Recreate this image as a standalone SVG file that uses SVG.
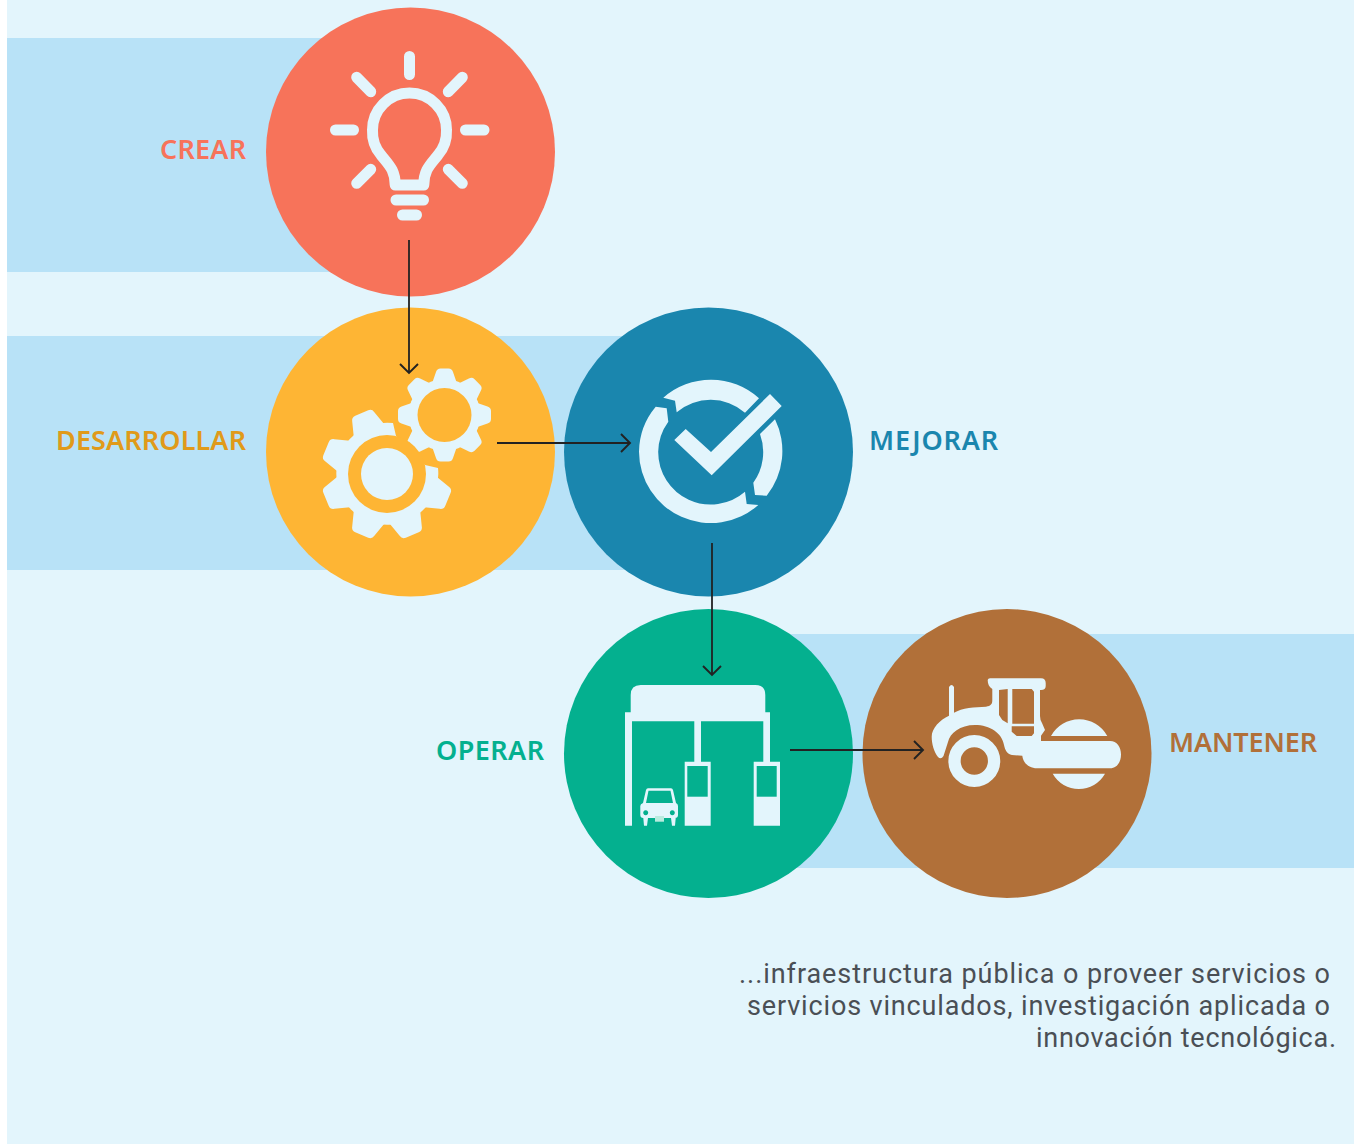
<svg xmlns="http://www.w3.org/2000/svg" width="1357" height="1144" viewBox="0 0 1357 1144">
<style>
.ico{fill:#E3F5FC}
.st{fill:none;stroke:#E3F5FC;stroke-width:11;stroke-linecap:round;stroke-linejoin:round}
.lb{font-family:"Noto Sans","Liberation Sans",sans-serif;font-size:27px;font-weight:600}
.tx{font-family:Roboto,"Noto Sans",sans-serif;font-size:27px;fill:#4A4F55}
.cn{fill:none;stroke:#222;stroke-width:1.8}
</style>
<defs>
<marker id="ah" markerUnits="userSpaceOnUse" markerWidth="20" markerHeight="24" refX="10" refY="12" orient="auto" viewBox="0 0 20 24">
<path d="M1,3 L10,12 L1,21" fill="none" stroke="#222" stroke-width="1.9"/>
</marker>
<path id="t1" d="M-13,-30 L-8.5,-43 Q-7.5,-46.5 -4,-46.5 L4,-46.5 Q7.5,-46.5 8.5,-43 L13,-30 Z"/>
<path id="t2" d="M-18,-42 L-12,-62 Q-11,-66 -7,-66 L7,-66 Q11,-66 12,-62 L18,-42 Z"/>
</defs>
<rect x="0" y="0" width="1357" height="1144" fill="#FFFFFF"/>
<rect x="7" y="0" width="1347" height="1144" fill="#E3F5FC"/>
<g id="bands" fill="#B8E2F7">
<rect x="7" y="38" width="400" height="234"/>
<rect x="7" y="336" width="700" height="234"/>
<rect x="770" y="634" width="584" height="234"/>
</g>
<g id="crear">
<circle cx="410.5" cy="152" r="144.5" fill="#F7735A"/>
<text class="lb" x="160" y="159" textLength="86" fill="#F7735A">CREAR</text>
<path class="st" d="M395.2,185 C395.2,170 389,165 381,155 C375,148 372,141 372.5,130 A37,37 0 0 1 446.5,130 C447,141 444,148 438,155 C430,165 423.8,170 423.8,185 Z"/>
<path class="st" d="M396,200H423.5M402.5,215H416.5M409.5,56.5V74.5M335.5,130H353.5M465.5,130H484M356.7,77.3L370.7,91.7M462.3,77.3L448.3,91.7M370.7,169.3L356.7,183.3M448.3,169.3L462.3,183.3"/>
</g>
<g id="desarrollar">
<circle cx="410.5" cy="452" r="144.5" fill="#FEB534"/>
<text class="lb" x="56" y="450" textLength="190" fill="#E09A1A">DESARROLLAR</text>
<g class="ico" transform="translate(444.5,415)">
<circle r="36"/>
<use href="#t1" transform="rotate(0)"/><use href="#t1" transform="rotate(45)"/><use href="#t1" transform="rotate(90)"/><use href="#t1" transform="rotate(135)"/><use href="#t1" transform="rotate(180)"/><use href="#t1" transform="rotate(225)"/><use href="#t1" transform="rotate(270)"/><use href="#t1" transform="rotate(315)"/>
</g>
<circle cx="444.5" cy="415" r="27" fill="#FEB534"/>
<g class="ico" transform="translate(387,474)">
<path d="M6,-51 A51,51 0 1 0 51,-6 L38,-9 L9,-38 Z"/>
<use href="#t2" transform="rotate(-22.5)"/>
<use href="#t2" transform="rotate(-67.5)"/>
<use href="#t2" transform="rotate(-112.5)"/>
<use href="#t2" transform="rotate(-157.5)"/>
<use href="#t2" transform="rotate(157.5)"/>
<use href="#t2" transform="rotate(112.5)"/>
</g>
<circle cx="387" cy="474" r="39" fill="#FEB534"/>
<circle class="ico" cx="387" cy="474" r="26"/>
</g>
<g id="mejorar">
<circle cx="708.5" cy="452" r="144.5" fill="#1A86AE"/>
<text class="lb" x="869" y="450" textLength="129" fill="#1A86AE">MEJORAR</text>
<path class="ico" d="M663.3,397.7 A71.7,71.7 0 0 1 759,398.3 L745,412.7 A52.5,52.5 0 0 0 676.7,412.3 L675,400.7 Z"/>
<path class="ico" d="M655.7,406.7 L666.7,408.3 L668.3,421.7 A52.5,52.5 0 0 0 658.2,451.7 A52.5,52.5 0 0 0 745,491.7 L746.7,504 L758.3,505 A71.7,71.7 0 0 1 639,451.7 A71.7,71.7 0 0 1 655.7,406.7 Z"/>
<path class="ico" d="M775,419.3 A71.7,71.7 0 0 1 766.7,495.7 L755,495 L753.3,482.7 A52.5,52.5 0 0 0 760,434 Z"/>
<path class="ico" d="M770,394 L781.7,406 L711.7,475.3 L674.3,440 L685.7,429 L711,452 Z"/>
</g>
<g id="operar">
<circle cx="708.5" cy="753.5" r="144.5" fill="#04B08F"/>
<text class="lb" x="436" y="760" textLength="108" fill="#04B08F">OPERAR</text>
<path class="ico" d="M630.7,712.3 V695 Q630.7,685 640.7,685 H755.3 Q765.3,685 765.3,695 V712.3 H770 V761.7 H780 V825.7 H753.7 V761.7 H763.3 V721.3 H701 V761.7 H710.7 V825.7 H684.7 V761.7 H694.3 V721.3 H632 V825.7 H625 V712.3 Z"/>
<rect x="687.3" y="766" width="20.4" height="30.7" fill="#04B08F"/>
<rect x="756.7" y="766" width="20" height="30.7" fill="#04B08F"/>
<path class="ico" fill-rule="evenodd" d="M648,788.3 H671 Q672.5,788.3 673,790 L676,803 Q678,804 678,806 V815 Q678,818 675,818 H675.7 L675,825.7 H672 L671,818 H648 L647,825.7 H644 L643.3,818 Q640.3,818 640.3,815 V806 Q640.3,804 643,803 L646,790 Q646.5,788.3 648,788.3 Z M648.5,790.8 L646,803 H673 L670.5,790.8 Z M645.7,810.2 a2.5,2.5 0 1 0 0.01,0 Z M672.3,810.2 a2.5,2.5 0 1 0 0.01,0 Z"/>
<rect x="655" y="816" width="9" height="5.7" fill="#B9EBDF"/>
</g>
<g id="mantener">
<circle cx="1007" cy="753.5" r="144.5" fill="#B17039"/>
<text class="lb" x="1169" y="752" textLength="148" fill="#B17039">MANTENER</text>
<path class="ico" d="M987.7,680 Q988,678.3 990,678.3 H1041 Q1045.7,678.3 1045.7,683 V686 Q1045.7,690 1041,690 H1040 V716 Q1040,720 1042,723 L1045,730 L1041,735.7 V741 H1110 C1117,741 1121,747 1121,754.5 C1121,762 1117,768.3 1110,768.3 H1037 C1029,768.3 1023,763 1022.3,755.7 L1012,755 C1007,754 1005,750 1004,745 C1002,733 990,725 975,725 C960,725 950,733 948,742 L943.5,756 Q941,760 938,757 C934,752 931.7,744 931.7,736.7 C931.7,728 940,720 949,715.7 V687 Q951.5,683 954,687 V712.7 C962,708 975,707 986,706.7 C991,706 992.3,704 992.3,700 V689 C989,687 987.7,684 987.7,680 Z"/>
<path d="M999,690 L1007.7,689 V723.3 L1002.3,720 L999,715 Z M1012.3,689 H1031.7 L1034,691.7 V723.7 H1012.3 Z M1011.7,726.3 H1034 V733.3 L1031.7,736 H1016.7 L1011.7,731.7 Z" fill="#B17039"/>
<circle cx="974.3" cy="761" r="19.8" fill="none" stroke="#E3F5FC" stroke-width="12.3"/>
<path class="ico" d="M1051,736 A32,32 0 0 1 1107.3,736 Z M1052.7,773.7 H1105 A30,30 0 0 1 1052.7,773.7 Z"/>
</g>
<g id="connectors">
<path class="cn" d="M409,240V373" marker-end="url(#ah)"/>
<path class="cn" d="M497,443H630" marker-end="url(#ah)"/>
<path class="cn" d="M712,543V675" marker-end="url(#ah)"/>
<path class="cn" d="M790,750H923" marker-end="url(#ah)"/>
</g>
<g id="caption">
<text class="tx" x="739" y="983" textLength="591">...infraestructura pública o proveer servicios o</text>
<text class="tx" x="747" y="1015" textLength="583">servicios vinculados, investigación aplicada o</text>
<text class="tx" x="1036" y="1047" textLength="300">innovación tecnológica.</text>
</g>
</svg>
